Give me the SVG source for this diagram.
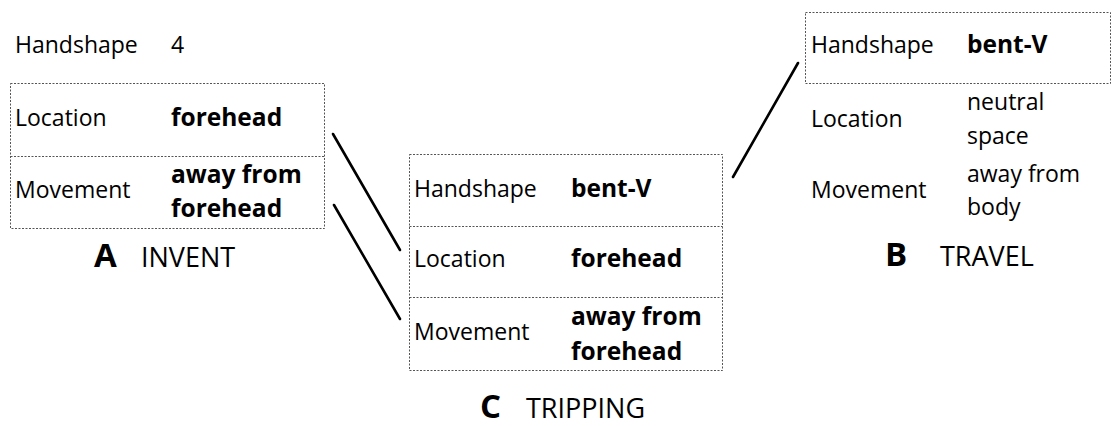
<svg xmlns="http://www.w3.org/2000/svg" width="1111" height="426" viewBox="0 0 1111 426">
  <style>
    .lbl { font-family: "Open Sans", "Noto Sans", sans-serif; font-size: 23px; fill: #000; }
    .val { font-family: "Open Sans", "Noto Sans", sans-serif; font-size: 24.5px; font-weight: bold; fill: #000; }
    .valr { font-family: "Open Sans", "Noto Sans", sans-serif; font-size: 23px; fill: #000; }
    .box { fill: none; stroke: #555; stroke-width: 1; stroke-dasharray: 2 1.5; }
    .letter { font-family: "Open Sans", "Noto Sans", sans-serif; font-size: 33px; font-weight: bold; fill: #000; }
    .title { font-family: "Open Sans", "Noto Sans", sans-serif; font-size: 27px; fill: #000; }
    .conn { stroke: #000; stroke-width: 2.6; stroke-linecap: round; }
  </style>
  <rect width="1111" height="426" fill="#fff"/>

  <g id="nodeA">
    <text class="lbl" x="15" y="53">Handshape</text>
    <text class="valr" x="171" y="53">4</text>
    <rect class="box" x="10.5" y="83.5" width="314" height="145"/>
    <line class="box" x1="10.5" y1="156.5" x2="324.5" y2="156.5"/>
    <text class="lbl" x="15" y="126">Location</text>
    <text class="val" x="171" y="126">forehead</text>
    <text class="lbl" x="15" y="198">Movement</text>
    <text class="val" x="171" y="183">away from</text>
    <text class="val" x="171" y="217">forehead</text>
    <text class="letter" x="94" y="267">A</text>
    <text class="title" x="141" y="267">INVENT</text>
  </g>

  <g id="nodeC">
    <rect class="box" x="409.5" y="154.5" width="313" height="216"/>
    <line class="box" x1="409.5" y1="226.5" x2="722.5" y2="226.5"/>
    <line class="box" x1="409.5" y1="297.5" x2="722.5" y2="297.5"/>
    <text class="lbl" x="414" y="197">Handshape</text>
    <text class="val" x="571" y="197">bent-V</text>
    <text class="lbl" x="414" y="267">Location</text>
    <text class="val" x="571" y="267">forehead</text>
    <text class="lbl" x="414" y="340">Movement</text>
    <text class="val" x="571" y="325">away from</text>
    <text class="val" x="571" y="360">forehead</text>
    <text class="letter" x="480" y="418">C</text>
    <text class="title" x="526" y="418">TRIPPING</text>
  </g>

  <g id="nodeB">
    <rect class="box" x="805.5" y="12.5" width="305" height="71"/>
    <text class="lbl" x="811" y="53">Handshape</text>
    <text class="val" x="967" y="53">bent-V</text>
    <text class="lbl" x="811" y="127">Location</text>
    <text class="valr" x="967" y="110">neutral</text>
    <text class="valr" x="967" y="144">space</text>
    <text class="lbl" x="811" y="198">Movement</text>
    <text class="valr" x="967" y="182">away from</text>
    <text class="valr" x="967" y="215">body</text>
    <text class="letter" x="885" y="266">B</text>
    <text class="title" x="940" y="266">TRAVEL</text>
  </g>

  <g id="connectors">
    <line class="conn" x1="333" y1="134" x2="400" y2="250"/>
    <line class="conn" x1="334" y1="205" x2="400" y2="319"/>
    <line class="conn" x1="798" y1="63" x2="733" y2="177"/>
  </g>
</svg>
